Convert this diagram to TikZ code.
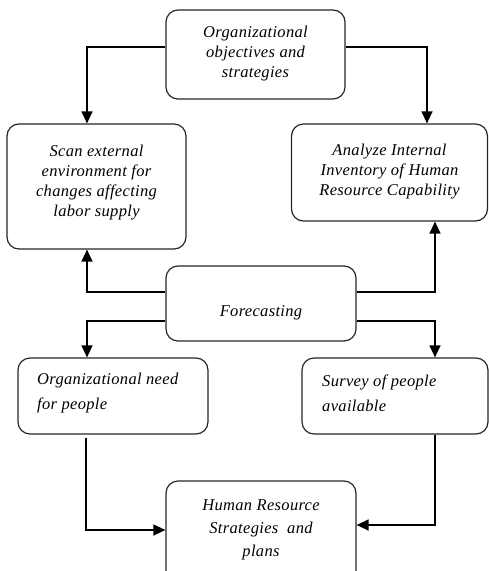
\documentclass[tikz,border=0pt]{standalone}
\usepackage{fontspec}
\setmainfont{Liberation Serif}[LetterSpace=2]
\usetikzlibrary{arrows.meta}
\begin{document}
\begin{tikzpicture}[x=1pt,y=-1pt,
  box/.style={draw=black!85,line width=1.2pt,rounded corners=12pt,inner sep=0pt},
  txt/.style={font=\fontsize{16.5}{20}\selectfont\itshape,align=center,inner sep=0pt},
  conn/.style={draw,line width=1.3pt},
  arr/.style={conn,-{Triangle[width=11pt,length=12pt]}}]
\clip (0,0) rectangle (489,571);
\useasboundingbox (0,0) rectangle (489,571);
\node[box,minimum width=179pt,minimum height=89pt] (top) at (255.5,54.5) {};
\node[txt] (topt) at (255.5,54) {Organizational\\objectives and\\strategies};
\node[box,minimum width=179pt,minimum height=125pt] (scan) at (96.5,186.5) {};
\node[txt] (scant) at (96.5,182.5) {Scan external\\environment for\\changes affecting\\labor supply};
\node[box,minimum width=196pt,minimum height=97pt] (ana) at (389.5,172.5) {};
\node[txt] (anat) at (389.5,171.5) {Analyze Internal\\Inventory of Human\\Resource Capability};
\node[box,minimum width=190pt,minimum height=75pt] (fore) at (261,303.5) {};
\node[txt] (foret) at (261,313) {Forecasting};
\node[box,minimum width=190pt,minimum height=76pt] (need) at (113,396) {};
\node[txt,font=\fontsize{16.5}{25}\selectfont\itshape,anchor=west,align=left] (needt) at (37,393.5) {Organizational need\\for people};
\node[box,minimum width=186pt,minimum height=76pt] (surv) at (395,396) {};
\node[txt,font=\fontsize{16.5}{25}\selectfont\itshape,anchor=west,align=left] (survt) at (322,393.5) {Survey of people\\available};
\node[box,minimum width=190pt,minimum height=110pt] (hr) at (261,536) {};
\node[txt,font=\fontsize{16.5}{23}\selectfont\itshape] (hrt) at (261,530) {Human Resource\\Strategies \ and\\plans};
% connectors
\draw[arr] (top.west |- 0,47) -| (scan.north -| 87,0);
\draw[arr] (top.east |- 0,47) -| (ana.north -| 427,0);
\draw[arr] (fore.west |- 0,292) -| (scan.south -| 87,0);
\draw[arr] (fore.west |- 0,321) -| (need.north -| 87,0);
\draw[arr] (fore.east |- 0,292) -| (ana.south -| 435,0);
\draw[arr] (fore.east |- 0,321) -| (surv.north -| 435,0);
\coordinate (nd) at (86,438);
\draw[arr] (nd) |- (hr.west |- 0,530);
\draw[arr] (surv.south -| 435,0) |- (hr.east |- 0,525);
\end{tikzpicture}
\end{document}
